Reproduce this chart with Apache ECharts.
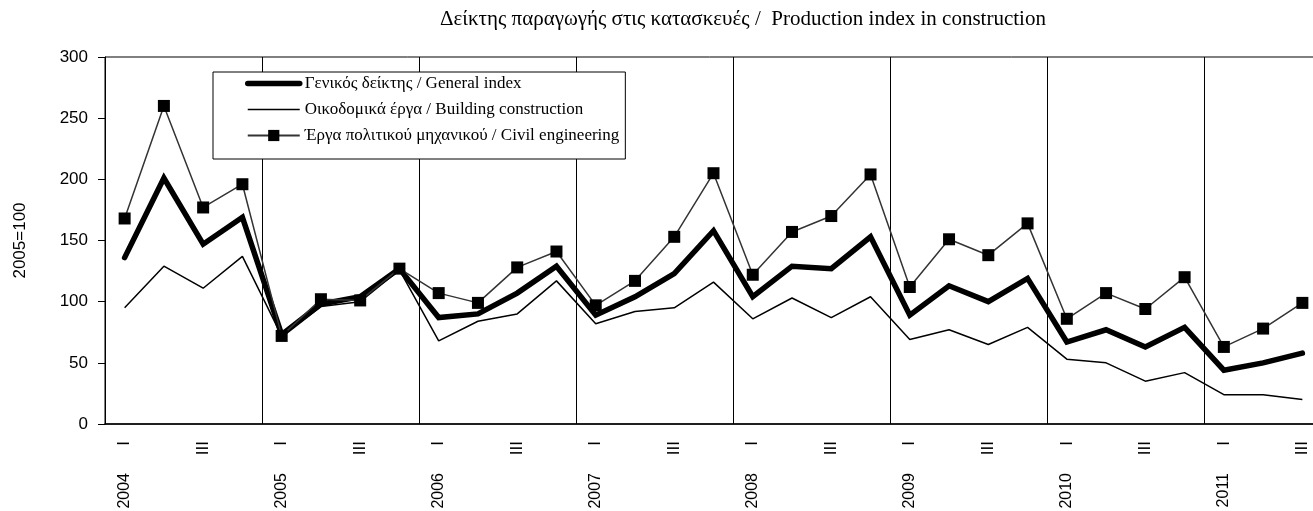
<!DOCTYPE html>
<html>
<head>
<meta charset="utf-8">
<script src="https://cdn.jsdelivr.net/npm/echarts@6/dist/echarts.min.js"></script>
<style>
  html, body { margin: 0; padding: 0; background: #fff; }
  #chart { width: 1313px; height: 511px; }
</style>
</head>
<body>
<div id="chart"></div>
<script>
// τρίμηνα 2004 Q1 - 2011 Q3
var quarters = [];
var years = [];
var yearList = ['2004', '2005', '2006', '2007', '2008', '2009', '2010', '2011'];
var quarterNames = ['I', 'II', 'III', 'IV'];
for (var y = 0; y < yearList.length; y++) {
    for (var q = 0; q < 4; q++) {
        if (y == 7 && q == 3) break; // μέχρι Q3 2011
        quarters.push(quarterNames[q]);
        years.push(q == 0 ? yearList[y] : '');
    }
}

var generalIndex = [136, 201, 147, 169, 73, 98, 104, 127, 87, 90, 107, 129,
    89, 104, 123, 158, 104, 129, 127, 153, 89, 113, 100, 119,
    67, 77, 63, 79, 44, 50, 58];
var buildingIdx = [95, 129, 111, 137, 72, 96, 100, 126, 68, 84, 90, 117,
    82, 92, 95, 116, 86, 103, 87, 104, 69, 77, 65, 79,
    53, 50, 35, 42, 24, 24, 20];
var civilIdx = [168, 260, 177, 196, 72, 102, 101, 127, 107, 99, 128, 141,
    97, 117, 153, 205, 122, 157, 170, 204, 112, 151, 138, 164,
    86, 107, 94, 120, 63, 78, 99];

var seriesNames = [
    'Γενικός δείκτης / General index',
    'Οικοδομικά έργα / Building construction',
    'Έργα πολιτικού μηχανικού / Civil engineering'
];

var sans = "'Liberation Sans Narrow', 'Arial Narrow', 'Liberation Sans', sans-serif";
var serif = "'Liberation Serif', 'Times New Roman', serif";

var chart = echarts.init(document.getElementById('chart'));

var option = {
    animation: false,
    backgroundColor: '#fff',
    title: {
        text: 'Δείκτης παραγωγής στις κατασκευές /  Production index in construction',
        left: 435,
        top: 4,
        textStyle: { fontFamily: serif, fontSize: 21, fontWeight: 'normal', color: '#000' }
    },
    legend: {
        orient: 'vertical',
        left: 213,
        top: 72,
        itemWidth: 52,
        itemHeight: 14,
        itemGap: 9,
        padding: [3, 6, 15, 32],
        borderColor: '#000',
        borderWidth: 1,
        backgroundColor: '#fff',
        textStyle: { fontFamily: serif, fontSize: 17, color: '#000' },
        data: [
            { name: seriesNames[0], itemStyle: { opacity: 0 }, lineStyle: { width: 5.5, color: '#000' } },
            { name: seriesNames[1], itemStyle: { opacity: 0 }, lineStyle: { width: 1.5, color: '#000' } },
            { name: seriesNames[2] }
        ]
    },
    grid: {
        left: 105,
        right: -9,
        top: 57,
        bottom: 87,
        show: true,
        borderColor: '#000',
        borderWidth: 1,
        containLabel: false,
        outerBoundsMode: 'none'
    },
    xAxis: [
        {
            type: 'category',
            data: quarters,
            boundaryGap: true,
            axisLine: { lineStyle: { color: '#000', width: 1.5 } },
            axisTick: {
                interval: function (i) { return i % 2 === 0; },
                length: 8,
                lineStyle: { color: '#000' }
            },
            axisLabel: {
                interval: function (i) { return i % 2 === 0; },
                rotate: 90,
                margin: 17,
                fontFamily: sans,
                fontSize: 17,
                color: '#000'
            },
            splitLine: { show: false }
        },
        {
            type: 'category',
            data: years,
            position: 'bottom',
            boundaryGap: true,
            axisLine: { show: false },
            axisTick: { show: false },
            axisLabel: {
                interval: 0,
                rotate: 90,
                margin: 49,
                fontFamily: sans,
                fontSize: 16,
                color: '#000'
            },
            splitLine: {
                show: true,
                interval: function (i) { return i % 4 === 0; },
                lineStyle: { color: '#000', width: 1 }
            }
        }
    ],
    yAxis: {
        type: 'value',
        min: 0,
        max: 300,
        interval: 50,
        name: '2005=100',
        nameLocation: 'middle',
        nameRotate: 90,
        nameGap: 76,
        nameTextStyle: { fontFamily: sans, fontSize: 17, color: '#000' },
        axisLine: { show: true, lineStyle: { color: '#000', width: 1 } },
        axisTick: { show: true, length: 7, lineStyle: { color: '#000' } },
        axisLabel: { margin: 17, fontFamily: sans, fontSize: 17, color: '#000' },
        splitLine: { show: false }
    },
    series: [
        {
            name: seriesNames[0],
            type: 'line',
            data: generalIndex,
            symbol: 'none',
            lineStyle: { color: '#000', width: 5.5, cap: 'round', join: 'miter' },
            itemStyle: { color: '#000' },
            z: 2
        },
        {
            name: seriesNames[1],
            type: 'line',
            data: buildingIdx,
            symbol: 'none',
            lineStyle: { color: '#000', width: 1.5 },
            itemStyle: { color: '#000' },
            z: 3
        },
        {
            name: seriesNames[2],
            type: 'line',
            data: civilIdx,
            symbol: 'rect',
            symbolSize: 12,
            lineStyle: { color: '#333', width: 1.5 },
            itemStyle: { color: '#000', borderWidth: 0 },
            z: 4
        }
    ]
};

chart.setOption(option);
</script>
</body>
</html>
